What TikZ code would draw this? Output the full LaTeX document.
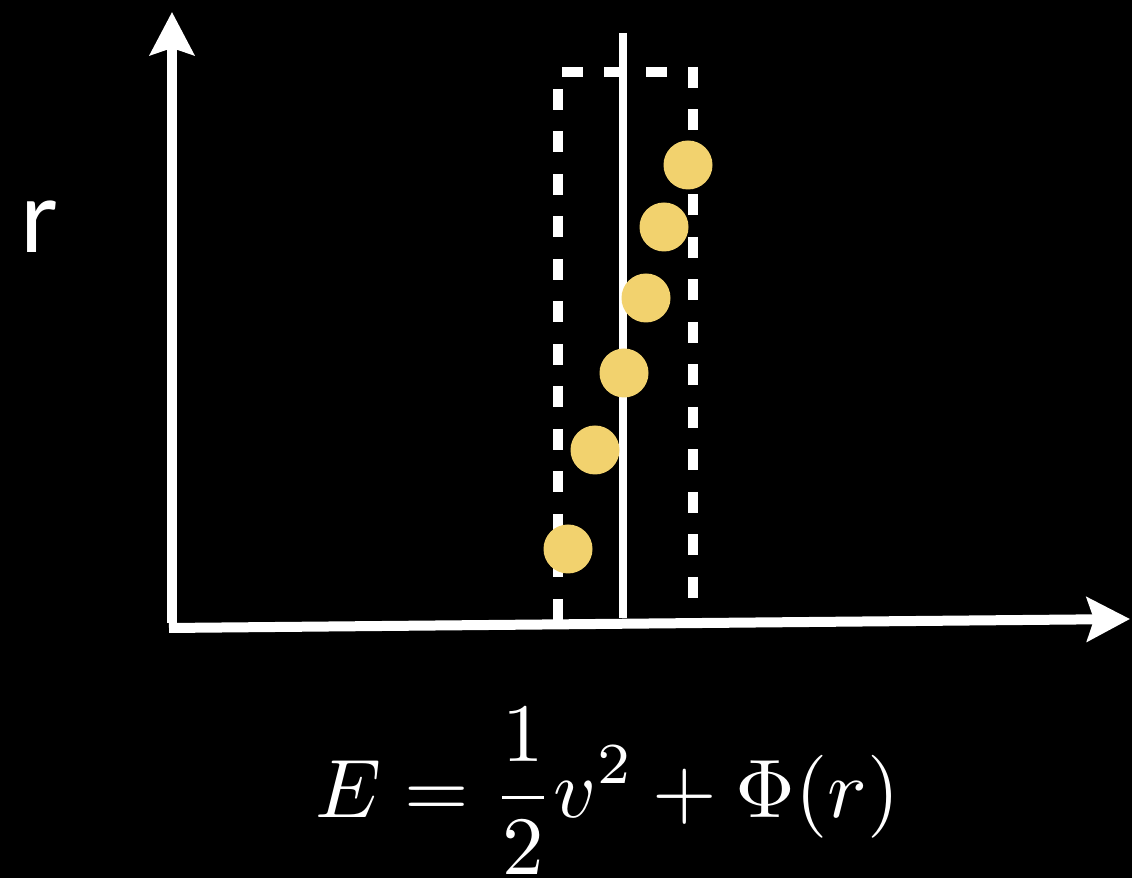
\documentclass[tikz,border=0pt]{standalone}
\usepackage[no-math]{fontspec}
\usepackage{graphicx}
\usepackage{tikz}
\usetikzlibrary{arrows.meta}
\newfontfamily\labelfont{Lato}
\definecolor{dotyellow}{RGB}{242,210,110}

\begin{document}
\begin{tikzpicture}[
  axis/.style={white, line width=2mm, -{Stealth[length=8.6mm, width=8.8mm, inset=1.4mm]}},
  binedge/.style={white, line width=2mm, dash pattern=on 4.2mm off 4.3mm},
  track/.style={white, line width=1.6mm},
  star/.style={circle, fill=dotyellow, minimum size=9.8mm, inner sep=0pt},
  label/.style={text=white, inner sep=0pt}
]

\fill[black] (0,0) rectangle (22.64,17.56);
\useasboundingbox (0,0) rectangle (22.64,17.56);

\coordinate (xstart) at (3.38, 5.00);
\coordinate (xend) at (22.60, 5.18);
\coordinate (ystart) at (3.44, 5.10);
\coordinate (yend) at (3.44, 17.32);

\draw[axis] (xstart) -- (xend);
\draw[axis] (ystart) -- (yend);

\coordinate (lefttop) at (11.16, 15.78);
\coordinate (leftbot) at (11.16, 5.10);
\coordinate (righttop) at (13.86, 16.22);
\coordinate (rightbot) at (13.86, 5.52);
\coordinate (topleft) at (11.24, 16.12);
\coordinate (topright) at (13.36, 16.12);

\draw[binedge] (lefttop) -- (leftbot);
\draw[binedge] (righttop) -- (rightbot);
\draw[binedge, dash pattern=on 4.2mm off 4.2mm] (topleft) -- (topright);

\coordinate (tracktop) at (12.46, 16.90);
\coordinate (trackbot) at (12.46, 5.20);
\draw[track] (tracktop) -- (trackbot);

\node[star] (s1) at (11.36, 6.58) {};
\node[star] (s2) at (11.90, 8.56) {};
\node[star] (s3) at (12.48, 10.10) {};
\node[star] (s4) at (12.92, 11.60) {};
\node[star] (s5) at (13.28, 13.02) {};
\node[star] (s6) at (13.76, 14.26) {};

\node[label, anchor=base west, font=\labelfont\fontsize{57}{68}\selectfont] (rlabel) at (0.40, 12.50) {r};

\node[label, anchor=base west] (energy) at (6.31, 1.20) {\scalebox{4.72}{$\displaystyle E = \frac{1}{2}v^2 + \Phi(r)$}};

\end{tikzpicture}
\end{document}
